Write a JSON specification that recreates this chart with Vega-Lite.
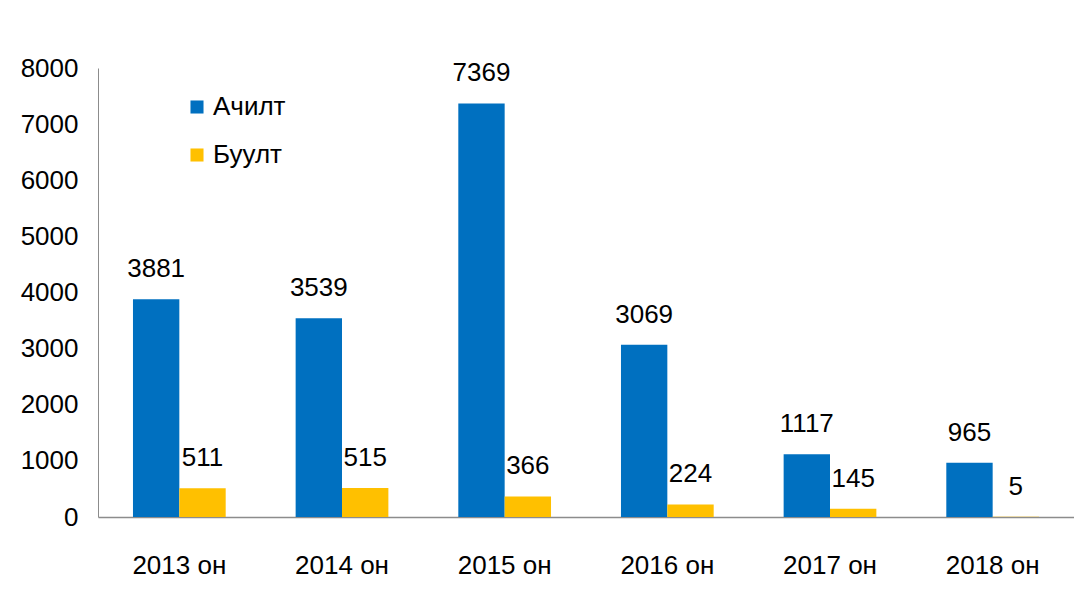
{
  "$schema": "https://vega.github.io/schema/vega-lite/v6.json",
  "width": 976,
  "height": 449,
  "autosize": "none",
  "padding": {"left": 98, "top": 68, "right": 0, "bottom": 81},
  "background": "white",
  "config": {
    "view": {"stroke": null},
    "font": "Liberation Sans, sans-serif"
  },
  "data": {
    "values": [
      {"year": "2013 он", "series": "Ачилт", "value": 3881},
      {"year": "2013 он", "series": "Буулт", "value": 511},
      {"year": "2014 он", "series": "Ачилт", "value": 3539},
      {"year": "2014 он", "series": "Буулт", "value": 515},
      {"year": "2015 он", "series": "Ачилт", "value": 7369},
      {"year": "2015 он", "series": "Буулт", "value": 366},
      {"year": "2016 он", "series": "Ачилт", "value": 3069},
      {"year": "2016 он", "series": "Буулт", "value": 224},
      {"year": "2017 он", "series": "Ачилт", "value": 1117},
      {"year": "2017 он", "series": "Буулт", "value": 145},
      {"year": "2018 он", "series": "Ачилт", "value": 965},
      {"year": "2018 он", "series": "Буулт", "value": 5}
    ]
  },
  "encoding": {
    "x": {
      "field": "year", "type": "nominal", "title": null,
      "scale": {"paddingInner": 0.43, "paddingOuter": 0.215},
      "axis": {"labelAngle": 0, "labelFontSize": 26, "labelColor": "#000", "ticks": false, "domainColor": "#8c8c8c", "domainWidth": 1.5, "labelPadding": 35}
    },
    "xOffset": {"field": "series", "type": "nominal"},
    "y": {
      "field": "value", "type": "quantitative", "title": null,
      "scale": {"domain": [0, 8000], "nice": false},
      "axis": {"values": [0,1000,2000,3000,4000,5000,6000,7000,8000], "format": "d", "grid": false, "ticks": false, "labelFontSize": 26, "labelColor": "#000", "domainColor": "#8c8c8c", "labelPadding": 20}
    }
  },
  "layer": [
    {
      "mark": {"type": "bar"},
      "encoding": {
        "color": {
          "field": "series", "type": "nominal",
          "scale": {"domain": ["Ачилт", "Буулт"], "range": ["#0070C0", "#FFC000"]},
          "legend": {"title": null, "orient": "none", "legendX": 86, "legendY": 26, "symbolType": "square", "symbolSize": 170, "symbolStrokeWidth": 0, "labelFontSize": 26, "labelColor": "#000", "rowPadding": 22, "labelOffset": 3}
        }
      }
    },
    {
      "mark": {"type": "text", "baseline": "alphabetic", "dy": -22, "fontSize": 26, "color": "#000"},
      "encoding": {"text": {"field": "value", "type": "quantitative", "format": "d"}}
    }
  ]
}
